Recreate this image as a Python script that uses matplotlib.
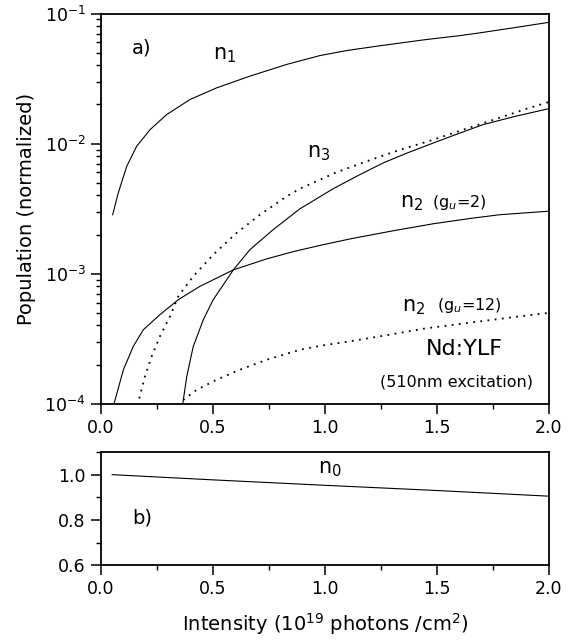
import matplotlib
matplotlib.use("Agg")
import matplotlib.pyplot as plt
from matplotlib.ticker import MultipleLocator, LogLocator

# n1 (solid)
n1_x = [0.052, 0.077, 0.115, 0.159, 0.219, 0.293, 0.397, 0.516, 0.665, 0.829,
        0.978, 1.1, 1.246, 1.45, 1.6, 1.692, 1.85, 2.0]
n1_y = [2.84e-3, 4.18e-3, 6.7e-3, 9.53e-3, 1.28e-2, 1.67e-2, 2.18e-2, 2.68e-2,
        3.3e-2, 4.06e-2, 4.75e-2, 5.2e-2, 5.65e-2, 6.3e-2, 6.75e-2, 7.1e-2,
        7.8e-2, 8.55e-2]

# n3 (dotted)
n3_x = [0.171, 0.196, 0.226, 0.263, 0.308, 0.345, 0.412, 0.501, 0.606, 0.71,
        0.829, 0.888, 1.05, 1.186, 1.33, 1.484, 1.63, 1.781, 1.9, 1.997]
n3_y = [1.1e-4, 1.62e-4, 2.31e-4, 3.3e-4, 4.7e-4, 6.7e-4, 9.55e-4, 1.4e-3,
        2.06e-3, 2.84e-3, 3.93e-3, 4.5e-3, 6.0e-3, 7.3e-3, 8.9e-3, 1.07e-2,
        1.3e-2, 1.58e-2, 1.85e-2, 2.08e-2]

# steep solid curve
n3s_x = [0.365, 0.383, 0.412, 0.457, 0.501, 0.55, 0.591, 0.665, 0.769, 0.888,
         1.037, 1.15, 1.26, 1.37, 1.484, 1.6, 1.707, 1.85, 1.997]
n3s_y = [1.0e-4, 1.62e-4, 2.76e-4, 4.43e-4, 6.31e-4, 8.4e-4, 1.07e-3, 1.53e-3,
         2.18e-3, 3.15e-3, 4.5e-3, 5.7e-3, 7.1e-3, 8.5e-3, 1.01e-2, 1.2e-2,
         1.4e-2, 1.62e-2, 1.85e-2]

# n2 (g_u=2), solid
n2a_x = [0.058, 0.1, 0.144, 0.189, 0.263, 0.345, 0.442, 0.591, 0.74, 0.86,
         0.978, 1.112, 1.3, 1.484, 1.65, 1.781, 1.997]
n2a_y = [1.0e-4, 1.83e-4, 2.76e-4, 3.71e-4, 4.84e-4, 6.31e-4, 8.0e-4, 1.07e-3,
         1.3e-3, 1.48e-3, 1.65e-3, 1.85e-3, 2.13e-3, 2.42e-3, 2.66e-3,
         2.84e-3, 3.02e-3]

# n2 (g_u=12), dotted
n2b_x = [0.367, 0.427, 0.516, 0.621, 0.74, 0.888, 0.978, 1.1, 1.246, 1.45,
         1.692, 1.85, 2.0]
n2b_y = [1.07e-4, 1.28e-4, 1.53e-4, 1.83e-4, 2.18e-4, 2.6e-4, 2.79e-4, 3.0e-4,
         3.3e-4, 3.8e-4, 4.3e-4, 4.65e-4, 5.0e-4]

# n0 (bottom panel)
n0_x = [0.05, 0.5, 1.0, 1.5, 2.0]
n0_y = [1.0, 0.977, 0.953, 0.93, 0.905]

x_ticks = [0.0, 0.5, 1.0, 1.5, 2.0]
x_labels = ['0.0', '0.5', '1.0', '1.5', '2.0']

plt.rcParams['font.family'] = 'DejaVu Sans'
plt.rcParams['axes.linewidth'] = 1.3

fig = plt.figure(figsize=(5.74, 6.43), dpi=100)
ax = fig.add_axes([0.176, 0.372, 0.780, 0.607])
ax2 = fig.add_axes([0.176, 0.121, 0.780, 0.176])

dots = (0, (1, 3))
ax.plot(n1_x, n1_y, color='black', lw=0.8)
ax.plot(n3_x, n3_y, color='black', lw=1.3, linestyle=dots)
ax.plot(n3s_x, n3s_y, color='black', lw=0.8)
ax.plot(n2a_x, n2a_y, color='black', lw=0.8)
ax.plot(n2b_x, n2b_y, color='black', lw=1.3, linestyle=dots)

ax.set_yscale('log')
ax.set_xlim(0, 2.0)
ax.set_ylim(1e-4, 1e-1)
ax.set_xticks(x_ticks)
ax.set_xticklabels(x_labels)
ax.xaxis.set_minor_locator(MultipleLocator(0.25))
ax.yaxis.set_major_locator(LogLocator(base=10, numticks=10))
ax.yaxis.set_minor_locator(LogLocator(base=10, subs=range(2, 10), numticks=10))
ax.set_ylabel('Population (normalized)', fontsize=14, labelpad=6)

ax.text(0.183, 0.054, 'a)', fontsize=14, ha='center', va='center')
ax.text(0.50, 0.048, 'n$_1$', fontsize=15, ha='left', va='center')
ax.text(0.92, 8.5e-3, 'n$_3$', fontsize=15, ha='left', va='center')
ax.text(1.335, 3.5e-3, 'n$_2$', fontsize=15, ha='left', va='center')
ax.text(1.478, 3.5e-3, '(g$_u$=2)', fontsize=11.5, ha='left', va='center')
ax.text(1.344, 5.5e-4, 'n$_2$', fontsize=15, ha='left', va='center')
ax.text(1.50, 5.7e-4, '(g$_u$=12)', fontsize=11.5, ha='left', va='center')
ax.text(1.625, 2.65e-4, 'Nd:YLF', fontsize=16, ha='center', va='center')
ax.text(1.589, 1.48e-4, '(510nm excitation)', fontsize=11.5, ha='center', va='center')

ax2.plot(n0_x, n0_y, color='black', lw=0.8)
ax2.set_xlim(0, 2.0)
ax2.set_ylim(0.6, 1.1)
ax2.set_xticks(x_ticks)
ax2.set_xticklabels(x_labels)
ax2.set_yticks([0.6, 0.8, 1.0])
ax2.set_yticklabels(['0.6', '0.8', '1.0'])
ax2.xaxis.set_minor_locator(MultipleLocator(0.25))
ax2.yaxis.set_minor_locator(MultipleLocator(0.1))
ax2.text(0.969, 1.027, 'n$_0$', fontsize=15, ha='left', va='center')
ax2.text(0.183, 0.807, 'b)', fontsize=14, ha='center', va='center')
ax2.set_xlabel('Intensity (10$^{19}$ photons /cm$^2$)', fontsize=14, labelpad=9)

for a in (ax, ax2):
    a.tick_params(which='major', direction='out', length=7, width=1.1,
                  labelsize=12.5, pad=4, top=False, right=False)
    a.tick_params(which='minor', direction='out', length=3.5, width=1.0,
                  top=False, right=False)

fig.savefig('out.png', dpi=100)
